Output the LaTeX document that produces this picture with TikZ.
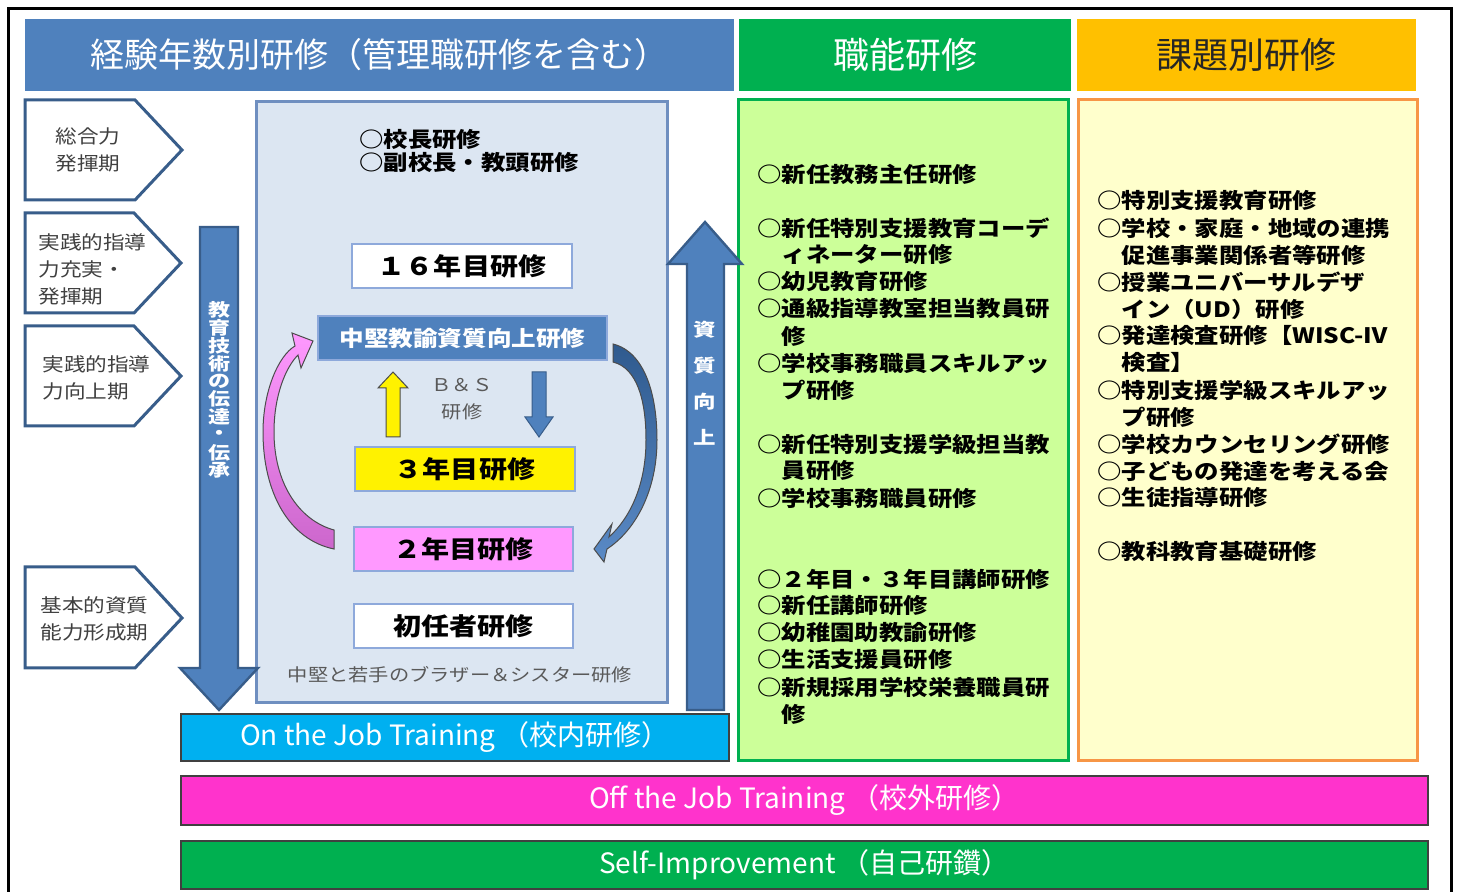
\documentclass[tikz,border=0pt]{standalone}
\usepackage{fontspec}
\setmainfont{Noto Sans CJK JP}
\newfontfamily\widejp{Noto Sans CJK JP}[FakeStretch=1.15]
\newfontfamily\vwidejp{Noto Sans CJK JP}[FakeStretch=1.25]
\usetikzlibrary{fit}
\definecolor{hblue}{HTML}{4F81BD}
\definecolor{dblue}{HTML}{385D8A}
\definecolor{hgreen}{HTML}{00B050}
\definecolor{horange}{HTML}{FFC000}
\definecolor{lblue}{HTML}{DCE6F2}
\definecolor{cborder}{HTML}{6F8FC0}
\definecolor{iborder}{HTML}{8EA9DB}
\definecolor{lgreen}{HTML}{CCFF99}
\definecolor{lyellow}{HTML}{FFFFCC}
\definecolor{oborder}{HTML}{F79646}
\definecolor{ojt}{HTML}{00B0F0}
\definecolor{offjt}{HTML}{FF33CC}
\definecolor{pinkbox}{HTML}{FF99FF}
\definecolor{pinktop}{HTML}{FF99FF}
\definecolor{pinkbot}{HTML}{CC66CC}
\definecolor{bluetop}{HTML}{2F5A8E}
\definecolor{bluebot}{HTML}{5A8AC6}
\definecolor{ltext}{HTML}{404040}
\definecolor{gtext}{HTML}{595959}
\begin{document}
\begin{tikzpicture}[x=0.5pt,y=-0.5pt,
  box/.style={inner sep=0pt, outer sep=0pt},
  txt/.style={inner sep=0pt},
  hdrtxt/.style={txt, font=\fontsize{17}{20}\selectfont},
  hdrtxtb/.style={txt, font=\fontsize{18}{20}\selectfont},
  bartxt/.style={txt, text=white, font=\fontsize{14}{16}\selectfont},
  item/.style={txt, anchor=west, font=\widejp\fontsize{10.6}{12}\selectfont\bfseries},
  phase/.style={txt, anchor=west, align=left, text=ltext, font=\widejp\fontsize{9.4}{13.5}\selectfont},
  pent/.style={fill=white, draw=dblue, line width=1.5pt, line join=miter},
  bigarrow/.style={fill=hblue, draw=dblue, line width=1.2pt},
  ibox/.style={box, draw=iborder, line width=0.8pt},
  iboxtxt/.style={txt, font=\widejp\fontsize{12.2}{14}\selectfont\bfseries},
  graytxt/.style={txt, text=gtext, font=\widejp\fontsize{8.8}{10}\selectfont},
  vtxt/.style={txt, text=white, font=\vwidejp\fontsize{8.8}{9}\selectfont\bfseries},
  vtxtb/.style={txt, text=white, font=\vwidejp\fontsize{9}{10}\selectfont\bfseries}
]
\useasboundingbox (0,0) rectangle (1458,892);
\fill[white] (0,0) rectangle (1458,892);
% outer frame
\draw[line width=1.5pt] (8,892) -- (8,9) -- (1451,9) -- (1451,892);

% headers
\node[box, fill=hblue, fit={(25,19) (734,91)}] (h1) {};
\node[hdrtxt, text=white] (h1t) at (h1.center) {経験年数別研修（管理職研修を含む）};
\node[box, fill=hgreen, fit={(739,19) (1071,91)}] (h2) {};
\node[hdrtxtb, text=white] (h2t) at (h2.center) {職能研修};
\node[box, fill=horange, fit={(1077,19) (1416,91)}] (h3) {};
\node[hdrtxtb, text=black!85] (h3t) at (h3.center) {課題別研修};

% left phase pentagons
\draw[pent] (25,100) -- (135,100) -- (182,150) -- (135,200) -- (25,200) -- cycle;
\draw[pent] (25,213) -- (134,213) -- (181,263) -- (134,313) -- (25,313) -- cycle;
\draw[pent] (25,326) -- (134,326) -- (181,376) -- (134,426) -- (25,426) -- cycle;
\draw[pent] (25,567) -- (135,567) -- (182,618) -- (135,668) -- (25,668) -- cycle;
\node[phase] (p1) at (55,150) {総合力\\発揮期};
\node[phase] (p2) at (38,269) {実践的指導\\力充実・\\発揮期};
\node[phase] (p3) at (42,378) {実践的指導\\力向上期};
\node[phase] (p4) at (40,619) {基本的資質\\能力形成期};

% central box
\node[box, fill=lblue, draw=cborder, line width=1.5pt, fit={(256,102) (667,703)}] (center) {};
\node[item, text=black] (k1) at (359,140) {○校長研修};
\node[item, text=black] (k2) at (359,163) {○副校長・教頭研修};
\node[ibox, fill=white, fit={(352,244) (572,288)}] (y16) {};
\node[iboxtxt] (y16t) at (y16.center) {１６年目研修};
\node[ibox, fill=hblue, fit={(318,316) (607,360)}] (chuken) {};
\node[txt, text=white, font=\widejp\fontsize{10.7}{12}\selectfont\bfseries] (chukent) at (chuken.center) {中堅教諭資質向上研修};
\node[ibox, fill=yellow, fit={(355,447) (575,491)}] (y3) {};
\node[iboxtxt] (y3t) at (y3.center) {３年目研修};
\node[ibox, fill=pinkbox, fit={(354,527) (573,571)}] (y2) {};
\node[iboxtxt] (y2t) at (y2.center) {２年目研修};
\node[ibox, fill=white, fit={(354,604) (573,648)}] (y1) {};
\node[iboxtxt] (y1t) at (y1.center) {初任者研修};
\node[graytxt] (bs1) at (462,385) {Ｂ＆Ｓ};
\node[graytxt] (bs2) at (462,412) {研修};
\node[graytxt] (bro) at (460,675) {中堅と若手のブラザー＆シスター研修};

% small straight arrows
\draw[fill=yellow, draw=black!70, line width=0.5pt] (386,437) -- (386,388) -- (378,388) -- (393,372) -- (408,388) -- (400,388) -- (400,437) -- cycle;
\draw[fill=hblue, draw=dblue, line width=0.5pt] (532,372) -- (546,372) -- (546,417) -- (553,417) -- (539,437) -- (525,417) -- (532,417) -- cycle;

% curved arrows
\shadedraw[top color=pinktop, bottom color=pinkbot, draw=black!70, line width=0.5pt]
 (334,549) .. controls (290,540) and (263,494) .. (263,432)
 .. controls (263,392) and (278,356) .. (295,346)
 -- (292,333) -- (313,341) -- (301,368) -- (298,355)
 .. controls (286,367) and (274,395) .. (274,432)
 .. controls (274,482) and (298,520) .. (334,530) -- cycle;
\shadedraw[top color=bluetop, bottom color=bluebot, draw=black!70, line width=0.5pt]
 (613,344) .. controls (645,352) and (657,395) .. (657,440)
 .. controls (657,490) and (636,530) .. (607,549)
 -- (604,562) -- (594,549) -- (612,524) -- (609,537)
 .. controls (630,518) and (646,485) .. (646,440)
 .. controls (646,400) and (637,368) .. (613,362) -- cycle;

% big down arrow
\draw[bigarrow] (200,227) -- (238,227) -- (238,668) -- (258,668) -- (219,710) -- (180,668) -- (200,668) -- cycle;
\foreach \c [count=\i from 0] in {教,育,技,術,の,伝,達,・,伝,承}
  \node[vtxt] (v\i) at (219,{310+17.8*\i}) {\c};

% green and orange columns
\node[box, fill=lgreen, draw=hgreen, line width=1.5pt, fit={(738,100) (1068,761)}] (gcol) {};
\node[box, fill=lyellow, draw=oborder, line width=1.5pt, fit={(1078,100) (1417,761)}] (ocol) {};

% big up arrow
\draw[bigarrow] (687,710) -- (687,264) -- (668,264) -- (705,222) -- (742,264) -- (724,264) -- (724,710) -- cycle;
\foreach \c [count=\i from 0] in {資,質,向,上}
  \node[vtxtb] (w\i) at (705,{330+35.8*\i}) {\c};

\foreach \y/\t [count=\i] in {
 174/○新任教務主任研修,
 228/○新任特別支援教育コーデ,
 255/　ィネーター研修,
 282/○幼児教育研修,
 309/○通級指導教室担当教員研,
 336/　修,
 363/○学校事務職員スキルアッ,
 390/　プ研修,
 444/○新任特別支援学級担当教,
 471/　員研修,
 498/○学校事務職員研修,
 579/○２年目・３年目講師研修,
 606/○新任講師研修,
 633/○幼稚園助教諭研修,
 660/○生活支援員研修,
 687/○新規採用学校栄養職員研,
 714/　修}
  \node[item] (g\i) at (757,\y) {\t};

\foreach \y/\t [count=\i] in {
 201/○特別支援教育研修,
 228/○学校・家庭・地域の連携,
 255/　促進事業関係者等研修,
 282/○授業ユニバーサルデザ,
 309/　イン（UD）研修,
 336/○発達検査研修【WISC-Ⅳ,
 363/　検査】,
 390/○特別支援学級スキルアッ,
 417/　プ研修,
 444/○学校カウンセリング研修,
 471/○子どもの発達を考える会,
 498/○生徒指導研修,
 552/○教科教育基礎研修}
  \node[item] (o\i) at (1097,\y) {\t};

% bottom bars
\node[box, fill=ojt, draw=black!75, line width=0.8pt, fit={(181,714) (729,761)}] (ojtbar) {};
\node[bartxt] (ojtt) at (ojtbar.center) {On the Job Training （校内研修）};
\node[box, fill=offjt, draw=black!75, line width=0.8pt, fit={(181,776) (1428,825)}] (offbar) {};
\node[bartxt] (offt) at (offbar.center) {Off the Job Training （校外研修）};
\node[box, fill=hgreen, draw=black!75, line width=0.8pt, fit={(181,841) (1428,889)}] (selfbar) {};
\node[bartxt] (selft) at (selfbar.center) {Self-Improvement （自己研鑽）};
\end{tikzpicture}
\end{document}
